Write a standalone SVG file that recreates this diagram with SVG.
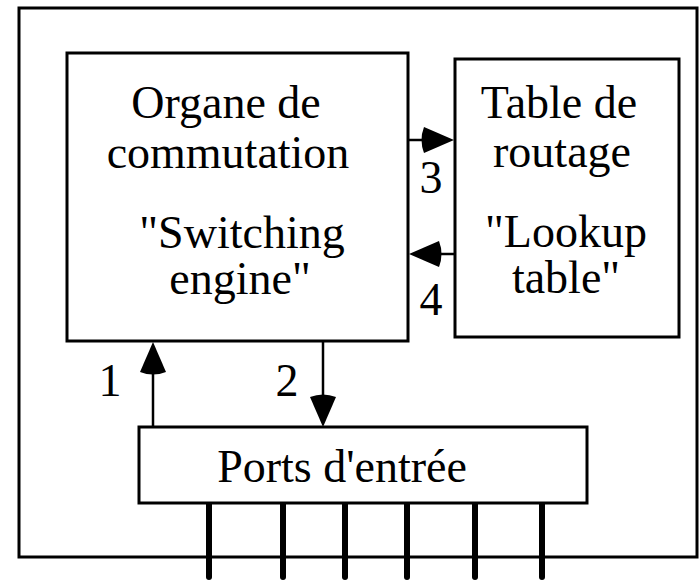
<svg xmlns="http://www.w3.org/2000/svg" width="699" height="580" viewBox="0 0 699 580">
<style>
.box{fill:#fff;stroke:#000;stroke-width:3}
.t{font-family:"Liberation Serif","Times New Roman",serif;font-size:46px;fill:#000;text-anchor:middle}
.ln{stroke:#000;stroke-width:2.5;fill:none}
.port{stroke:#000;stroke-width:6;stroke-linecap:round}
</style>
<defs>
<path id="ah" d="M0,0 L-30,-13 Q-35,0 -30,13 Z" fill="#000"/>
</defs>
<rect x="19" y="8" width="678" height="549" fill="none" stroke="#000" stroke-width="3"/>
<g id="ports-lines">
<line class="port" x1="209" y1="503" x2="209" y2="577"/>
<line class="port" x1="283" y1="503" x2="283" y2="577"/>
<line class="port" x1="345" y1="503" x2="345" y2="577"/>
<line class="port" x1="407" y1="503" x2="407" y2="577"/>
<line class="port" x1="475" y1="503" x2="475" y2="577"/>
<line class="port" x1="542" y1="503" x2="542" y2="577"/>
</g>
<g id="organe">
<rect class="box" x="67" y="53" width="341" height="288"/>
<text class="t" x="226" y="118">Organe de</text>
<text class="t" x="228" y="168">commutation</text>
<text class="t" x="242" y="248">"Switching</text>
<text class="t" x="240" y="294">engine"</text>
</g>
<g id="table">
<rect class="box" x="455" y="59" width="224" height="278"/>
<text class="t" x="559" y="118">Table de</text>
<text class="t" x="562" y="167">routage</text>
<text class="t" x="566" y="247">"Lookup</text>
<text class="t" x="566" y="293">table"</text>
</g>
<g id="ports">
<rect class="box" x="139" y="427" width="448" height="76"/>
<text class="t" x="342" y="482">Ports d'entrée</text>
</g>
<g id="connectors">
<line class="ln" x1="153" y1="427" x2="153" y2="365"/>
<use href="#ah" transform="translate(153,342) rotate(-90)"/>
<line class="ln" x1="323" y1="341" x2="323" y2="405"/>
<use href="#ah" transform="translate(323,427) rotate(90)"/>
<line class="ln" x1="408" y1="140" x2="430" y2="140"/>
<use href="#ah" transform="translate(454,140)"/>
<line class="ln" x1="455" y1="254" x2="432" y2="254"/>
<use href="#ah" transform="translate(409,254) rotate(180)"/>
<text class="t" x="431" y="193">3</text>
<text class="t" x="431" y="315">4</text>
<text class="t" x="110" y="396">1</text>
<text class="t" x="287" y="396">2</text>
</g>
</svg>
